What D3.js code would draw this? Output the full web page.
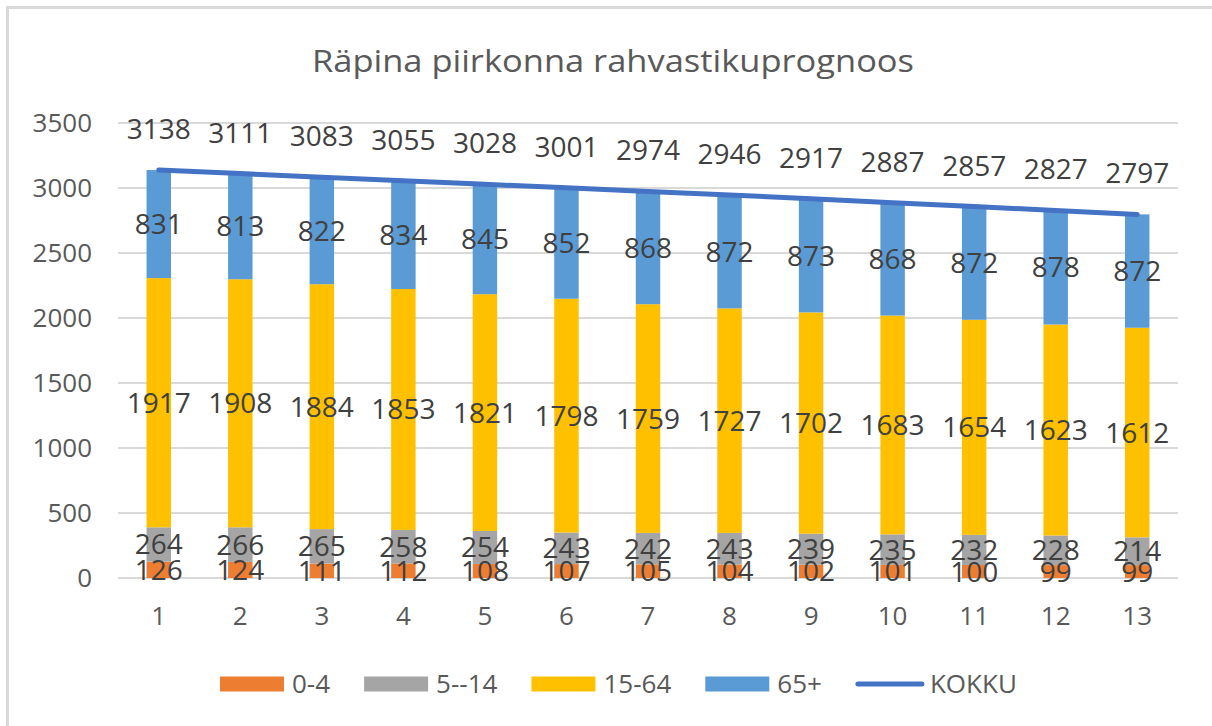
<!DOCTYPE html>
<html>
<head>
<meta charset="utf-8">
<script src="https://cdn.jsdelivr.net/npm/d3@7"></script>
<style>
  body { margin: 0; background: #fff; }
  svg text { font-family: "Open Sans", "Noto Sans", sans-serif; }
</style>
</head>
<body>
<div id="chart"></div>
<script>
// data
var categories = ['1','2','3','4','5','6','7','8','9','10','11','12','13'];
var age0_4   = [126, 124, 111, 112, 108, 107, 105, 104, 102, 101, 100, 99, 99];
var age5_14  = [264, 266, 265, 258, 254, 243, 242, 243, 239, 235, 232, 228, 214];
var age15_64 = [1917, 1908, 1884, 1853, 1821, 1798, 1759, 1727, 1702, 1683, 1654, 1623, 1612];
var age65    = [831, 813, 822, 834, 845, 852, 868, 872, 873, 868, 872, 878, 872];
var kokku    = [3138, 3111, 3083, 3055, 3028, 3001, 2974, 2946, 2917, 2887, 2857, 2827, 2797];
var yTicks   = [0, 500, 1000, 1500, 2000, 2500, 3000, 3500];
var seriesNames = ['0-4', '5--14', '15-64', '65+'];
var seriesColors = ['#ED7D31', '#A5A5A5', '#FFC000', '#5B9BD5'];
var lineName = 'KOKKU', lineColor = '#4472C4';

var W = 1212, H = 726;
var svg = d3.select('#chart').append('svg').attr('width', W).attr('height', H);

// frame (only top & left edge visible)
svg.append('path').attr('d', 'M7.5,726 L7.5,7.5 L1212,7.5')
  .attr('fill', 'none').attr('stroke', '#D9D9D9').attr('stroke-width', 3);

svg.append('text').attr('x', 613).attr('y', 72).attr('text-anchor', 'middle')
  .attr('font-size', 31).attr('fill', '#595959')
  .attr('textLength', 602).attr('lengthAdjust', 'spacingAndGlyphs')
  .text('Räpina piirkonna rahvastikuprognoos');

var x = d3.scaleBand().domain(categories).range([118, 1178]).paddingInner(0.7).paddingOuter(0.35);
var y = d3.scaleLinear().domain([0, 3500]).range([578, 123]);

// grid
svg.append('g').selectAll('line').data(yTicks).enter().append('line')
  .attr('x1', 118).attr('x2', 1178)
  .attr('y1', function(d){ return y(d); }).attr('y2', function(d){ return y(d); })
  .attr('stroke', '#D9D9D9').attr('stroke-width', 2);

// y axis labels
var yAxis = d3.axisLeft(y).tickValues(yTicks).tickFormat(d3.format('d')).tickSize(0).tickPadding(26);
svg.append('g').attr('transform', 'translate(118,0)').call(yAxis)
  .call(function(g){ g.select('.domain').remove(); })
  .selectAll('text').attr('font-size', 26).attr('fill', '#595959')
  .attr('font-family', '"Open Sans", sans-serif');

// x axis labels
var xAxis = d3.axisBottom(x).tickSize(0).tickPadding(29);
svg.append('g').attr('transform', 'translate(0,578)').call(xAxis)
  .call(function(g){ g.select('.domain').remove(); })
  .selectAll('text').attr('font-size', 26).attr('fill', '#595959')
  .attr('font-family', '"Open Sans", sans-serif');

// stacked bars
var rows = categories.map(function(c, i){
  return {cat: c, s0: age0_4[i], s1: age5_14[i], s2: age15_64[i], s3: age65[i]};
});
var stack = d3.stack().keys(['s0','s1','s2','s3'])(rows);

var layers = svg.append('g').selectAll('g').data(stack).enter().append('g')
  .attr('fill', function(d, i){ return seriesColors[i]; });
layers.selectAll('rect').data(function(d){ return d; }).enter().append('rect')
  .attr('x', function(d){ return x(d.data.cat); })
  .attr('width', x.bandwidth())
  .attr('y', function(d){ return y(d[1]); })
  .attr('height', function(d){ return y(d[0]) - y(d[1]); });

// total line
var line = d3.line()
  .x(function(d, i){ return x(categories[i]) + x.bandwidth() / 2; })
  .y(function(d){ return y(d); });
svg.append('path').datum(kokku).attr('d', line)
  .attr('fill', 'none').attr('stroke', lineColor).attr('stroke-width', 5)
  .attr('stroke-linecap', 'round').attr('stroke-linejoin', 'round');

// segment labels
var labels = svg.append('g').attr('font-size', 28).attr('fill', '#404040').attr('text-anchor', 'middle');
stack.forEach(function(layer){
  layer.forEach(function(d){
    labels.append('text')
      .attr('x', x(d.data.cat) + x.bandwidth() / 2)
      .attr('y', y((d[0] + d[1]) / 2) + 10)
      .text(d[1] - d[0]);
  });
});
// total labels
kokku.forEach(function(v, i){
  labels.append('text')
    .attr('x', x(categories[i]) + x.bandwidth() / 2)
    .attr('y', y(v) - 31)
    .text(v);
});

// legend
var leg = svg.append('g').attr('font-size', 26).attr('fill', '#595959');
var lx = 220, ly = 684;
seriesNames.forEach(function(n, i){
  leg.append('rect').attr('x', lx).attr('y', ly - 7.5).attr('width', 64).attr('height', 15)
    .attr('fill', seriesColors[i]);
  var t = leg.append('text').attr('x', lx + 72).attr('y', ly + 9).text(n);
  lx += 72 + t.node().getComputedTextLength() + 34;
});
leg.append('line').attr('x1', lx + 2).attr('x2', lx + 66).attr('y1', ly).attr('y2', ly)
  .attr('stroke', lineColor).attr('stroke-width', 5).attr('stroke-linecap', 'round');
leg.append('text').attr('x', lx + 74).attr('y', ly + 9).text(lineName);
</script>
</body>
</html>
